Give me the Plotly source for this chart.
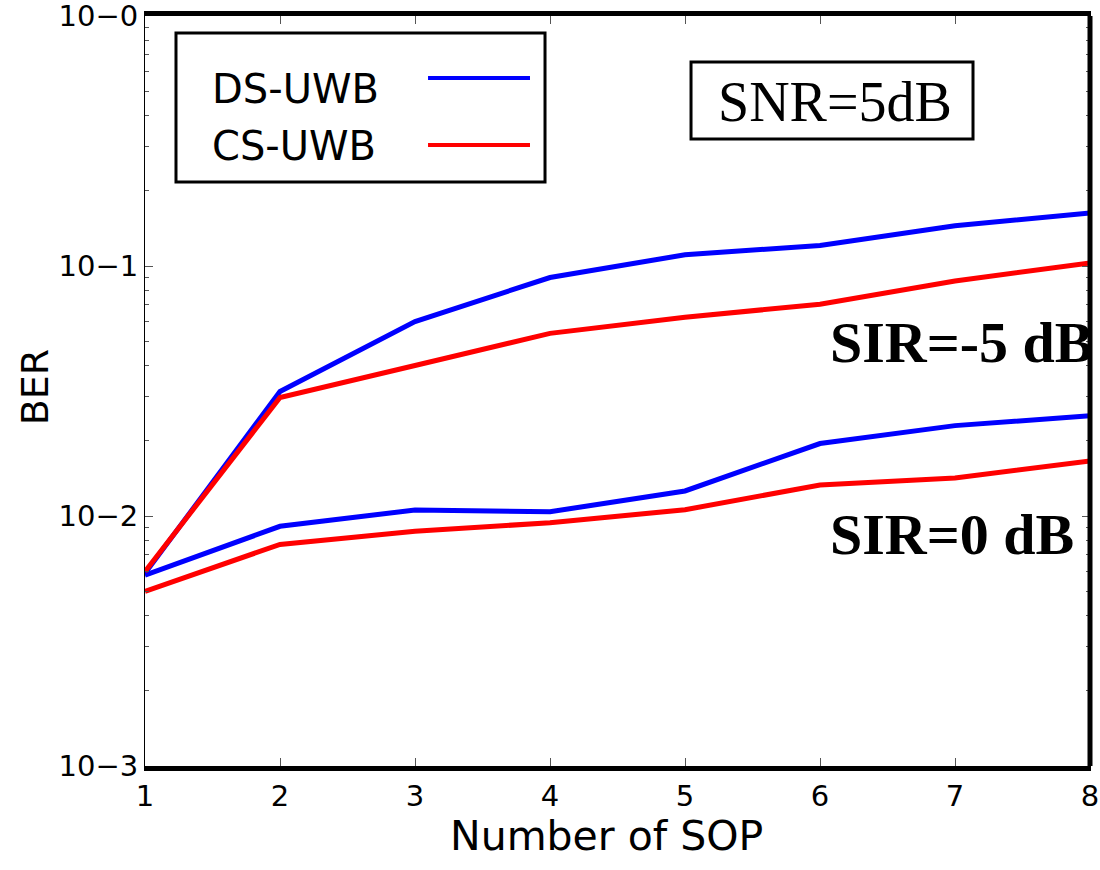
import plotly.graph_objects as go

sop = [1, 2, 3, 4, 5, 6, 7, 8]
ds_sir_m5 = [0.0059, 0.0315, 0.060, 0.090, 0.111, 0.121, 0.145, 0.163]
cs_sir_m5 = [0.0060, 0.0298, 0.040, 0.0538, 0.0624, 0.0704, 0.0871, 0.103]
ds_sir_0 = [0.0058, 0.0091, 0.01057, 0.0104, 0.0126, 0.0195, 0.0230, 0.0252]
cs_sir_0 = [0.0050, 0.0077, 0.0087, 0.0094, 0.0106, 0.0133, 0.0142, 0.0166]

y_tickvals = [1e-3, 1e-2, 1e-1, 1]
y_ticktext = ["10\u22123", "10\u22122", "10\u22121", "10\u22120"]
x_tickvals = [1, 2, 3, 4, 5, 6, 7, 8]

BLUE = "#0000ff"
RED = "#ff0000"
SANS = "DejaVu Sans"
SERIF = "Liberation Serif"

fig = go.Figure()
for ys, col in [(ds_sir_m5, BLUE), (ds_sir_0, BLUE), (cs_sir_m5, RED), (cs_sir_0, RED)]:
    fig.add_trace(go.Scatter(x=sop, y=ys, mode="lines",
                             line=dict(color=col, width=5), showlegend=False))

fig.update_layout(
    width=1100, height=870,
    margin=dict(l=145, r=10, t=16, b=104, autoexpand=False),
    paper_bgcolor="white", plot_bgcolor="white",
    xaxis=dict(range=[1, 8], tickvals=x_tickvals, showgrid=False, zeroline=False,
               showline=True, linecolor="black", linewidth=5, mirror="ticks",
               ticks="inside", ticklen=8, tickwidth=1, tickcolor="#555",
               ticklabeloverflow="allow",
               tickfont=dict(family=SANS, size=29, color="black")),
    yaxis=dict(type="log", range=[-3, 0.0005], tickvals=y_tickvals, ticktext=y_ticktext,
               showgrid=False, zeroline=False,
               showline=True, linecolor="black", linewidth=1, mirror="ticks",
               ticks="inside", ticklen=8, tickwidth=1, tickcolor="#555",
               ticklabeloverflow="allow",
               tickfont=dict(family=SANS, size=29, color="black"),
               minor=dict(ticks="inside", ticklen=4, tickwidth=1, tickcolor="#555",
                          dtick="D1", showgrid=False)),
)

shapes = [
    dict(type="line", xref="paper", yref="paper", x0=1, x1=1, y0=0, y1=1,
         line=dict(color="black", width=5)),
    # legend box
    dict(type="rect", xref="paper", yref="paper", x0=0.0328, x1=0.4233, y0=0.7787, y1=0.9773,
         line=dict(color="black", width=3), fillcolor="white", layer="above"),
    dict(type="line", xref="paper", yref="paper", x0=0.2995, x1=0.4074, y0=0.9173, y1=0.9173,
         line=dict(color=BLUE, width=4)),
    dict(type="line", xref="paper", yref="paper", x0=0.2995, x1=0.4074, y0=0.828, y1=0.828,
         line=dict(color=RED, width=4)),
    # SNR box
    dict(type="rect", xref="paper", yref="paper", x0=0.5778, x1=0.8762, y0=0.836, y1=0.9387,
         line=dict(color="black", width=3), fillcolor="white", layer="above"),
]
fig.update_layout(shapes=shapes)

ann = [
    dict(text="DS-UWB", x=0.0688, y=0.9027, xanchor="left", yanchor="middle",
         font=dict(family=SANS, size=40, color="black")),
    dict(text="CS-UWB", x=0.0688, y=0.8267, xanchor="left", yanchor="middle",
         font=dict(family=SANS, size=40, color="black")),
    dict(text="SNR=5dB", x=0.7302, y=0.885, xanchor="center", yanchor="middle",
         font=dict(family=SERIF, size=56, color="black")),
    dict(text="<b>SIR=-5 dB</b>", x=0.7228, y=0.565, xanchor="left", yanchor="middle",
         font=dict(family=SERIF, size=58, color="black")),
    dict(text="<b>SIR=0 dB</b>", x=0.7228, y=0.309, xanchor="left", yanchor="middle",
         font=dict(family=SERIF, size=58, color="black")),
    dict(text="BER", x=-0.1164, y=0.505, xanchor="center", yanchor="middle", textangle=-90,
         font=dict(family=SANS, size=38, color="black")),
    dict(text="Number of SOP", x=0.488, y=-0.093, xanchor="center", yanchor="middle",
         font=dict(family=SANS, size=41, color="black")),
]
for a in ann:
    a.update(xref="paper", yref="paper", showarrow=False)
fig.update_layout(annotations=ann)

fig.write_html(
    "out.html",
    config={"displayModeBar": False},
    post_script="document.body.style.margin='0';document.body.style.overflow='hidden';",
)
